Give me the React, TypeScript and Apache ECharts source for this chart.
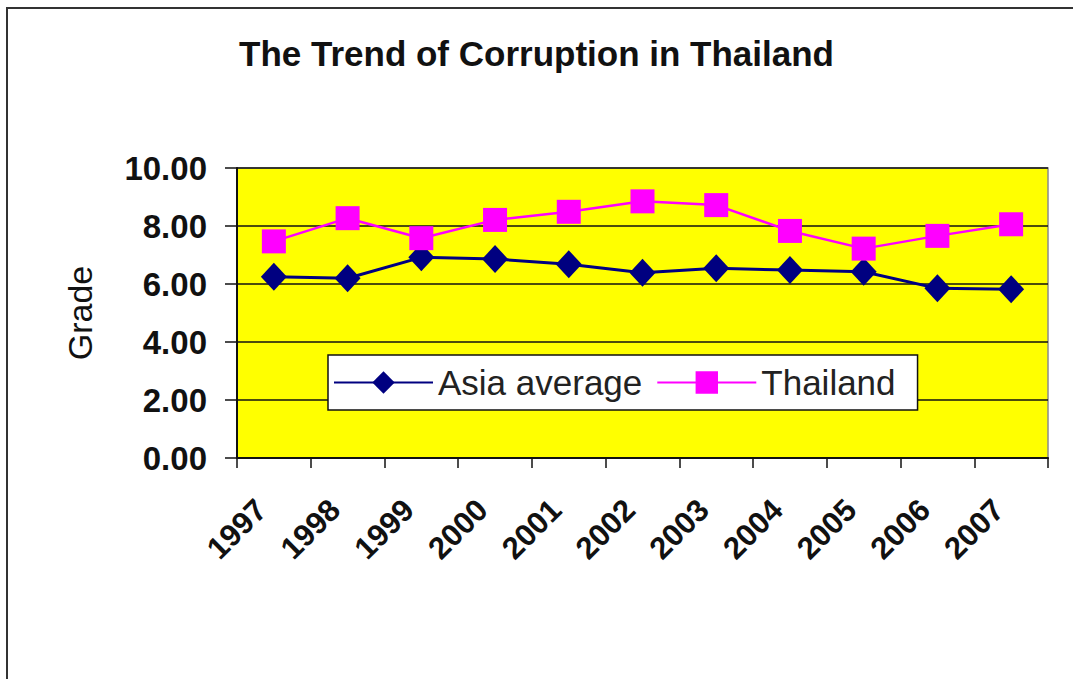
import React, { useEffect, useRef } from "react";
import * as echarts from "echarts";

const years = ["1997", "1998", "1999", "2000", "2001", "2002", "2003", "2004", "2005", "2006", "2007"];
const asiaAverage = [6.25, 6.2, 6.92, 6.86, 6.68, 6.39, 6.54, 6.48, 6.42, 5.85, 5.82];
const thailand = [7.47, 8.27, 7.58, 8.21, 8.49, 8.85, 8.72, 7.83, 7.22, 7.66, 8.06];
const yTicks = { min: 0, max: 10, interval: 2 };

const FONT = "Arial, 'Liberation Sans', sans-serif";

export default function App() {
  const ref = useRef<HTMLDivElement>(null);
  useEffect(() => {
    if (!ref.current) return;
    const chart = echarts.init(ref.current, undefined, { renderer: "svg" });
    chart.setOption({
      animation: false,
      backgroundColor: "#ffffff",
      textStyle: { fontFamily: FONT },
      title: {
        text: "The Trend of Corruption in Thailand",
        left: "center",
        top: 31,
        textStyle: { fontFamily: FONT, fontSize: 35, fontWeight: "bold", color: "#111" },
      },
      graphic: [
        {
          type: "rect",
          shape: { x: 7, y: 8, width: 1100, height: 700 },
          style: { fill: "none", stroke: "#333", lineWidth: 2 },
          z: 100,
        },
      ],
      legend: {
        left: 328,
        top: 355,
        orient: "horizontal",
        backgroundColor: "#ffffff",
        borderColor: "#111",
        borderWidth: 1.5,
        borderRadius: 0,
        padding: [10, 22, 10, 5],
        itemGap: 14,
        itemWidth: 99,
        itemHeight: 28,
        textStyle: { fontFamily: FONT, fontSize: 35, color: "#222" },
        data: ["Asia average", "Thailand"],
      },
      grid: {
        left: 237,
        right: 1073 - 1048,
        top: 168,
        bottom: 679 - 458,
        show: true,
        backgroundColor: "#ffff00",
        borderColor: "#8a8a8a",
        borderWidth: 1.5,
        containLabel: false,
      },
      xAxis: {
        type: "category",
        data: years,
        boundaryGap: true,
        axisLine: { lineStyle: { color: "#111", width: 2 } },
        axisTick: { show: true, alignWithLabel: false, length: 10, lineStyle: { color: "#111", width: 1.5 } },
        axisLabel: {
          rotate: 45,
          interval: 0,
          fontFamily: FONT,
          fontSize: 31,
          fontWeight: "bold",
          color: "#111",
          margin: 34,
          padding: [0, 18, 0, 0],
        },
      },
      yAxis: {
        type: "value",
        min: yTicks.min,
        max: yTicks.max,
        interval: yTicks.interval,
        name: "Grade",
        nameLocation: "middle",
        nameRotate: 90,
        nameGap: 140,
        nameTextStyle: { fontFamily: FONT, fontSize: 34, color: "#111" },
        axisLine: { show: true, lineStyle: { color: "#111", width: 2 } },
        axisTick: { show: true, inside: false, length: 12, lineStyle: { color: "#111", width: 1.5 } },
        axisLabel: {
          fontFamily: FONT,
          fontSize: 33,
          fontWeight: "bold",
          color: "#111",
          margin: 30,
          formatter: (v: number) => v.toFixed(2),
        },
        splitLine: { show: true, lineStyle: { color: "#111", width: 1.5 } },
      },
      series: [
        {
          name: "Asia average",
          type: "line",
          data: asiaAverage,
          symbol: "diamond",
          symbolSize: [26, 28],
          itemStyle: { color: "#000080" },
          lineStyle: { color: "#000080", width: 3 },
          z: 3,
        },
        {
          name: "Thailand",
          type: "line",
          data: thailand,
          symbol: "rect",
          symbolSize: [24, 24],
          itemStyle: { color: "#ff00ff" },
          lineStyle: { color: "#ff00ff", width: 2.5 },
          z: 4,
        },
      ],
    });
    return () => chart.dispose();
  }, []);
  return (
    <div
      ref={ref}
      style={{ position: "fixed", left: 0, top: 0, width: 1073, height: 679, background: "#fff" }}
    />
  );
}
